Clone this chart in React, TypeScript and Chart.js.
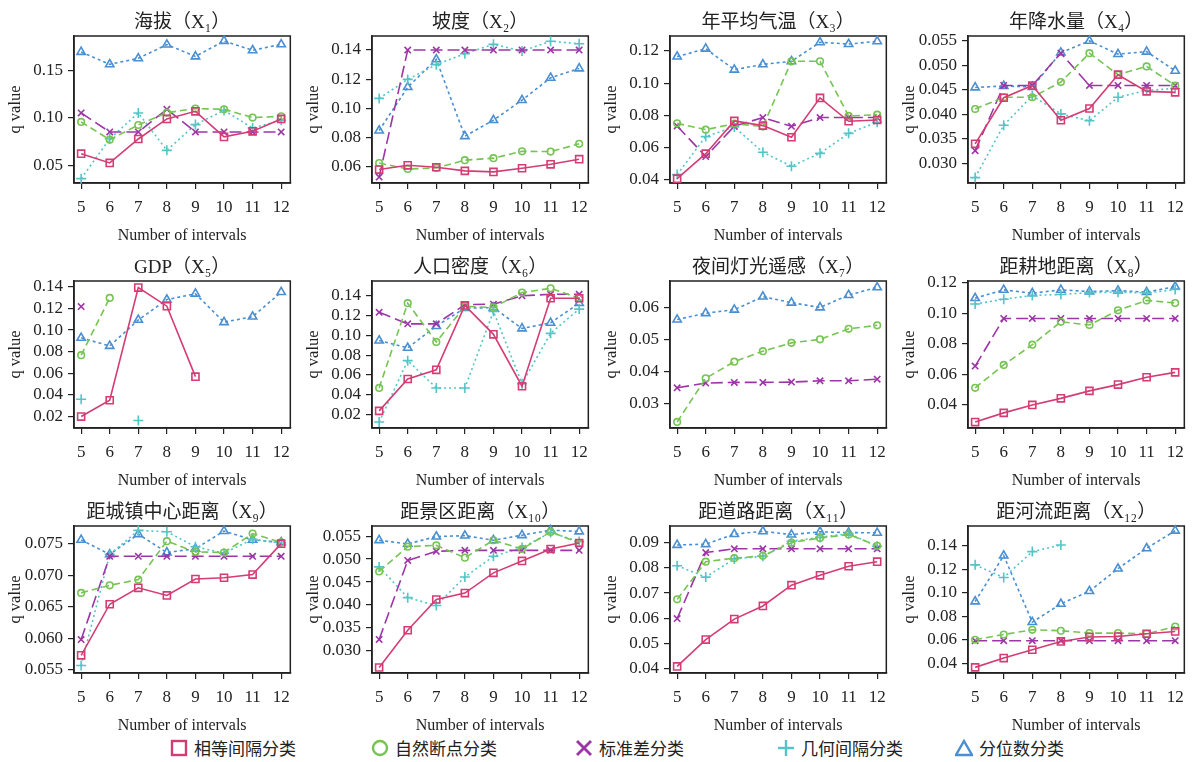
import React, { useEffect, useRef } from "react";
import { Chart, registerables } from "chart.js";
Chart.register(...registerables);

// ---------- data ----------
const intervals = [5, 6, 7, 8, 9, 10, 11, 12];

const methodNames = ["相等间隔分类", "自然断点分类", "标准差分类", "几何间隔分类", "分位数分类"];

const panelTitles = [
  "海拔（X₁）", "坡度（X₂）", "年平均气温（X₃）", "年降水量（X₄）",
  "GDP（X₅）", "人口密度（X₆）", "夜间灯光遥感（X₇）", "距耕地距离（X₈）",
  "距城镇中心距离（X₉）", "距景区距离（X₁₀）", "距道路距离（X₁₁）", "距河流距离（X₁₂）",
];

const N = null;

const qEqual = [
  [0.0623, 0.0525, 0.0778, 0.099, 0.107, 0.080, 0.0859, 0.099],
  [0.0582, 0.0611, 0.0598, 0.0573, 0.0566, 0.0591, 0.0618, 0.0653],
  [0.0408, 0.0563, 0.0766, 0.0737, 0.0665, 0.0909, 0.0764, 0.0772],
  [0.034, 0.0434, 0.0459, 0.0388, 0.0412, 0.0481, 0.0447, 0.0445],
  [0.020, 0.0351, 0.1393, 0.1221, 0.0569, N, N, N],
  [0.0237, 0.0559, 0.0652, 0.1303, 0.1011, 0.0486, 0.1376, 0.1376],
  [N, N, N, N, N, N, N, N],
  [0.0288, 0.0348, 0.040, 0.0443, 0.0492, 0.0533, 0.0581, 0.0613],
  [0.0573, 0.0654, 0.068, 0.0668, 0.0694, 0.0696, 0.0701, 0.075],
  [0.0264, 0.0345, 0.0412, 0.0426, 0.047, 0.0496, 0.0522, 0.0535],
  [0.041, 0.0516, 0.0597, 0.0649, 0.0731, 0.077, 0.0806, 0.0824],
  [0.0366, 0.0445, 0.0516, 0.0587, 0.0624, 0.0629, 0.0652, 0.0672],
];

const qNatural = [
  [0.0958, 0.0771, 0.0926, 0.1056, 0.1099, 0.1092, 0.1004, 0.1018],
  [0.0627, 0.0586, 0.0593, 0.0646, 0.066, 0.0707, 0.0705, 0.0758],
  [0.0751, 0.0712, 0.0749, 0.0731, 0.1136, 0.1136, 0.0797, 0.0805],
  [0.0411, 0.0435, 0.0435, 0.0466, 0.0525, 0.0481, 0.0498, 0.0459],
  [0.0768, 0.1297, N, N, N, N, N, N],
  [0.0469, 0.1326, 0.0934, 0.1293, 0.1283, 0.1433, 0.1476, 0.1376],
  [0.0241, 0.0378, 0.043, 0.0463, 0.0489, 0.05, 0.0533, 0.0544],
  [0.0512, 0.0662, 0.0794, 0.0944, 0.0923, 0.1019, 0.1084, 0.1067],
  [0.0672, 0.0684, 0.0693, 0.0754, 0.0737, 0.0736, 0.0766, 0.0752],
  [0.0473, 0.0527, 0.053, 0.0503, 0.0541, 0.0522, 0.0559, 0.0535],
  [0.0675, 0.0824, 0.0838, 0.0847, 0.0899, 0.0918, 0.0931, 0.0887],
  [0.0601, 0.0646, 0.0686, 0.0678, 0.0658, 0.0658, 0.0652, 0.0714],
];

const qStdDev = [
  [0.1053, 0.0852, 0.0852, 0.1092, 0.0852, 0.0852, 0.0852, 0.0852],
  [0.0531, 0.14, 0.14, 0.14, 0.14, 0.14, 0.14, 0.14],
  [0.0735, 0.0545, 0.0733, 0.0787, 0.0733, 0.0787, 0.0787, 0.0787],
  [0.0326, 0.0459, 0.0459, 0.0525, 0.0459, 0.0459, 0.0459, 0.0459],
  [0.1218, N, N, N, N, N, N, N],
  [0.1233, 0.1117, 0.1117, 0.131, 0.1316, 0.14, 0.1416, 0.1416],
  [0.0348, 0.0363, 0.0365, 0.0365, 0.0366, 0.037, 0.037, 0.0375],
  [0.0654, 0.0966, 0.0966, 0.0966, 0.0966, 0.0966, 0.0966, 0.0966],
  [0.0598, 0.073, 0.073, 0.073, 0.073, 0.073, 0.073, 0.073],
  [0.0325, 0.0497, 0.0517, 0.0519, 0.0519, 0.0519, 0.0519, 0.0519],
  [0.0599, 0.086, 0.0875, 0.0875, 0.0875, 0.0875, 0.0875, 0.0875],
  [0.0593, 0.0593, 0.0593, 0.0593, 0.0593, 0.0593, 0.0593, 0.0593],
];

const qGeometric = [
  [0.0359, 0.078, 0.1053, 0.0658, 0.093, 0.108, 0.0894, 0.0975],
  [0.1069, 0.1199, 0.130, 0.1375, 0.1439, 0.1393, 0.146, 0.1443],
  [0.0433, 0.0669, 0.0729, 0.0572, 0.0485, 0.0565, 0.0689, 0.0758],
  [0.0271, 0.0378, 0.0438, 0.0401, 0.0387, 0.0435, 0.0449, 0.0453],
  [0.036, N, 0.0164, N, N, N, N, N],
  [0.0124, 0.0745, 0.0469, 0.0469, 0.1243, 0.0512, 0.1021, 0.1266],
  [N, N, N, N, N, N, N, N],
  [0.106, 0.1092, 0.1116, 0.1123, 0.1135, 0.1138, 0.1133, 0.1155],
  [0.0557, 0.0733, 0.0771, 0.0769, 0.0745, 0.0735, 0.0757, 0.0751],
  [0.0483, 0.0416, 0.0399, 0.0461, 0.0506, 0.0525, 0.0558, 0.0538],
  [0.0808, 0.0763, 0.0835, 0.0845, 0.0905, 0.092, 0.0935, 0.0885],
  [0.1239, 0.1131, 0.1352, 0.1408, N, N, N, N],
];

const qQuantile = [
  [0.1697, 0.1567, 0.163, 0.1775, 0.165, 0.1813, 0.1715, 0.1778],
  [0.0849, 0.1146, 0.1336, 0.081, 0.092, 0.1057, 0.121, 0.1274],
  [0.1165, 0.1214, 0.1084, 0.1117, 0.1136, 0.1254, 0.1243, 0.126],
  [0.0455, 0.0458, 0.0456, 0.0526, 0.055, 0.0523, 0.0528, 0.0489],
  [0.0928, 0.0853, 0.1094, 0.1282, 0.1336, 0.1073, 0.1124, 0.1351],
  [0.0948, 0.0874, 0.1094, 0.1276, 0.128, 0.107, 0.1127, 0.1326],
  [0.0562, 0.0582, 0.0593, 0.0634, 0.0615, 0.06, 0.0639, 0.0663],
  [0.1099, 0.1153, 0.1131, 0.1153, 0.1142, 0.1148, 0.1138, 0.1174],
  [0.0756, 0.0733, 0.0765, 0.0736, 0.0742, 0.077, 0.0756, 0.0752],
  [0.0541, 0.0533, 0.0549, 0.0551, 0.0541, 0.0552, 0.0563, 0.056],
  [0.089, 0.0893, 0.0933, 0.0944, 0.0931, 0.0942, 0.0939, 0.0938],
  [0.0927, 0.1318, 0.0751, 0.0907, 0.1015, 0.1207, 0.138, 0.153],
];

const yTickLabels = [
  ["0.05", "0.10", "0.15"],
  ["0.06", "0.08", "0.10", "0.12", "0.14"],
  ["0.04", "0.06", "0.08", "0.10", "0.12"],
  ["0.030", "0.035", "0.040", "0.045", "0.050", "0.055"],
  ["0.02", "0.04", "0.06", "0.08", "0.10", "0.12", "0.14"],
  ["0.02", "0.04", "0.06", "0.08", "0.10", "0.12", "0.14"],
  ["0.03", "0.04", "0.05", "0.06"],
  ["0.04", "0.06", "0.08", "0.10", "0.12"],
  ["0.055", "0.060", "0.065", "0.070", "0.075"],
  ["0.030", "0.035", "0.040", "0.045", "0.050", "0.055"],
  ["0.04", "0.05", "0.06", "0.07", "0.08", "0.09"],
  ["0.04", "0.06", "0.08", "0.10", "0.12", "0.14"],
];

const yRanges = [
  [0.0313, 0.1866],
  [0.049, 0.1496],
  [0.0381, 0.1293],
  [0.026, 0.056],
  [0.0094, 0.1454],
  [0.0064, 0.155],
  [0.0222, 0.0683],
  [0.0249, 0.1211],
  [0.0545, 0.0778],
  [0.0252, 0.0572],
  [0.0384, 0.0965],
  [0.0318, 0.157],
];

const xRange = [4.75, 12.32];

// ---------- styles ----------
const SERIES = [qEqual, qNatural, qStdDev, qGeometric, qQuantile];
const COLORS = ["#d43d74", "#76c453", "#9c36a6", "#52c6c6", "#4a8fd2"];
const DASHES = [[], [7, 4], [12, 5], [2, 3], [3, 3]];
const POINT_STYLES = ["rect", "circle", "crossRot", "cross", "triangle"];
const POINT_RADII = [5, 3.3, 4.5, 5, 4.8];

const PANEL_W = 298;
const PANEL_H = 245;
const FONT = "'Liberation Serif', 'Noto Sans CJK SC', serif";
const AXIS_COLOR = "#222";

const framePlugin = {
  id: "frame",
  beforeDatasetsDraw(chart: any) {
    const { ctx, chartArea: a } = chart;
    ctx.save();
    ctx.strokeStyle = AXIS_COLOR;
    ctx.lineWidth = 1.5;
    ctx.strokeRect(a.left, a.top, a.right - a.left, a.bottom - a.top);
    ctx.restore();
  },
};

function Panel({ idx }: { idx: number }) {
  const ref = useRef<HTMLCanvasElement>(null);
  useEffect(() => {
    const canvas = ref.current!;
    const labels = yTickLabels[idx];
    const tickVals = labels.map((s) => parseFloat(s));
    const decimals = labels[0].split(".")[1].length;
    const [ymin, ymax] = yRanges[idx];
    const datasets = SERIES.map((s, k) => ({
      label: methodNames[k],
      data: intervals.map((x, i) => ({ x, y: s[idx][i] })),
      borderColor: COLORS[k],
      backgroundColor: "rgba(255,255,255,0)",
      borderWidth: 1.6,
      borderDash: DASHES[k],
      pointStyle: POINT_STYLES[k],
      pointRadius: POINT_RADII[k],
      pointBorderWidth: 1.6,
      pointBorderColor: COLORS[k],
      pointBackgroundColor: "rgba(255,255,255,0)",
      spanGaps: false,
      tension: 0,
      clip: false as any,
    }));
    const chart = new Chart(canvas, {
      type: "line",
      data: { datasets },
      plugins: [framePlugin],
      options: {
        responsive: false,
        animation: false,
        events: [],
        layout: { padding: { left: 0, right: 7, top: 0, bottom: 0 } },
        plugins: {
          legend: { display: false },
          tooltip: { enabled: false },
          title: {
            display: true,
            text: panelTitles[idx],
            fullSize: false,
            color: "#222",
            font: { family: FONT, size: 19, weight: "normal", lineHeight: 22 / 19 },
            padding: { top: 12, bottom: 2 },
          },
        },
        scales: {
          x: {
            type: "linear",
            min: xRange[0],
            max: xRange[1],
            afterFit: (s: any) => { s.height = 62; },
            afterBuildTicks: (s: any) => { s.ticks = intervals.map((v) => ({ value: v })); },
            ticks: {
              color: "#222",
              font: { family: FONT, size: 17 },
              padding: 8,
              maxRotation: 0,
              autoSkip: false,
              callback: (v: any) => String(v),
            },
            grid: { drawOnChartArea: false, drawTicks: true, tickLength: 6, color: AXIS_COLOR, lineWidth: 1.2 },
            border: { display: true, color: AXIS_COLOR, width: 1.5 },
            title: {
              display: true,
              text: "Number of intervals",
              color: "#222",
              font: { family: FONT, size: 16 },
              padding: { top: 3, bottom: 0 },
            },
          },
          y: {
            type: "linear",
            min: ymin,
            max: ymax,
            afterFit: (s: any) => { s.width = 74; },
            afterBuildTicks: (s: any) => { s.ticks = tickVals.map((v) => ({ value: v })); },
            ticks: {
              color: "#222",
              font: { family: FONT, size: 17 },
              padding: 5,
              autoSkip: false,
              callback: (v: any) => Number(v).toFixed(decimals),
            },
            grid: { drawOnChartArea: false, drawTicks: true, tickLength: 6, color: AXIS_COLOR, lineWidth: 1.2 },
            border: { display: true, color: AXIS_COLOR, width: 1.5 },
            title: {
              display: true,
              text: "q value",
              color: "#222",
              font: { family: FONT, size: 16.5 },
              padding: { top: 6, bottom: 0 },
            },
          },
        },
      } as any,
    });
    return () => chart.destroy();
  }, [idx]);
  const col = idx % 4;
  const row = Math.floor(idx / 4);
  return (
    <canvas
      ref={ref}
      width={PANEL_W}
      height={PANEL_H}
      style={{ position: "absolute", left: col * PANEL_W, top: row * PANEL_H, width: PANEL_W, height: PANEL_H, display: "block" }}
    />
  );
}

function Marker({ k }: { k: number }) {
  const c = COLORS[k];
  const sw = 2.4;
  let shape: any = null;
  if (k === 0) shape = <rect x={2} y={2} width={14} height={14} fill="none" stroke={c} strokeWidth={sw} />;
  else if (k === 1) shape = <circle cx={9} cy={9} r={7} fill="none" stroke={c} strokeWidth={sw} />;
  else if (k === 2)
    shape = (
      <g stroke={c} strokeWidth={sw + 0.4}>
        <line x1={2} y1={2} x2={16} y2={16} />
        <line x1={16} y1={2} x2={2} y2={16} />
      </g>
    );
  else if (k === 3)
    shape = (
      <g stroke={c} strokeWidth={sw}>
        <line x1={9} y1={1} x2={9} y2={17} />
        <line x1={1} y1={9} x2={17} y2={9} />
      </g>
    );
  else shape = <polygon points="9,2 17,16 1,16" fill="none" stroke={c} strokeWidth={sw} strokeLinejoin="miter" />;
  return (
    <svg width={18} height={18} style={{ display: "block" }}>
      {shape}
    </svg>
  );
}

const LEGEND_X = [170, 371, 575, 777, 955];

function Legend() {
  return (
    <div style={{ position: "absolute", left: 0, top: 735, width: 1192, height: 27 }}>
      {methodNames.map((name, k) => (
        <div
          key={k}
          style={{
            position: "absolute",
            left: LEGEND_X[k],
            top: 4,
            display: "flex",
            alignItems: "center",
            gap: 6,
            fontFamily: "'Noto Sans CJK SC', sans-serif",
            fontSize: 17,
            lineHeight: "18px",
            color: "#222",
            whiteSpace: "nowrap",
          }}
        >
          <Marker k={k} />
          <span>{name}</span>
        </div>
      ))}
    </div>
  );
}

export default function App() {
  return (
    <div style={{ position: "absolute", left: 0, top: 0, width: 1192, height: 762, background: "#fff", overflow: "hidden" }}>
      {panelTitles.map((_, i) => (
        <Panel key={i} idx={i} />
      ))}
      <Legend />
    </div>
  );
}
